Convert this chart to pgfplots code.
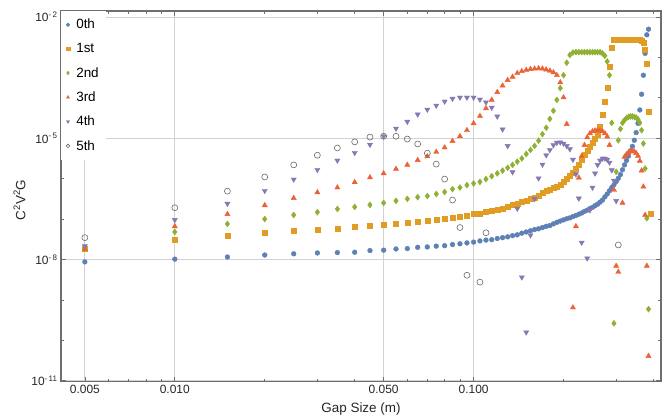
\documentclass[border=0pt]{standalone}
\usepackage{fontspec}
\setmainfont{Liberation Sans}
\usepackage{pgfplots}
\pgfplotsset{compat=1.18}
\definecolor{cA}{RGB}{94,129,181}
\definecolor{cB}{RGB}{225,156,36}
\definecolor{cC}{RGB}{143,176,50}
\definecolor{cD}{RGB}{235,98,53}
\definecolor{cE}{RGB}{135,120,179}
\definecolor{cF}{RGB}{105,105,105}
\definecolor{frame}{RGB}{110,110,110}
\definecolor{gridc}{RGB}{210,210,210}
\begin{document}
\begin{tikzpicture}
\useasboundingbox (-61bp,-34.5bp) rectangle (609bp,381.5bp);
\begin{axis}[
  at={(0,0)}, anchor=south west,
  scale only axis, width=600bp, height=370.5bp,
  xmode=log, ymode=log,
  xmin=0.00416, xmax=0.4238,
  ymin=9.55e-12, ymax=1.409e-2,
  xtick={0.005,0.01,0.05,0.1},
  xticklabels={0.005,0.010,0.050,0.100},
  minor xtick={0.006,0.007,0.008,0.009,0.02,0.03,0.04,0.06,0.07,0.08,0.09,0.2,0.3,0.4},
  ytick={1e-11,1e-8,1e-5,1e-2},
  yticklabels={10\textsuperscript{-\,11},10\textsuperscript{-\,8},10\textsuperscript{-\,5},10\textsuperscript{-\,2}},
  minor ytick={1e-10,1e-9,1e-7,1e-6,1e-4,1e-3},
  grid=major,
  major grid style={color=gridc, line width=0.9bp},
  axis line style={color=frame, line width=1.1bp},
  tick style={color=frame, line width=0.7bp},
  major tick length=5bp, minor tick length=2.7bp,
  tick align=inside,
  ticklabel style={font=\fontsize{12}{14}\selectfont, text=black!85},
  xlabel={Gap Size (m)},
  ylabel={C\textsuperscript{2}V\textsuperscript{2}G},
  label style={font=\fontsize{13.5}{15}\selectfont, text=black!85},
  x label style={at={(axis description cs:0.5,0)}, anchor=center, yshift=-27.5bp},
  y label style={at={(axis description cs:-0.069,0.49)}, anchor=center},
  legend style={at={(0,1)}, anchor=north west, draw=none, fill=white,
    inner xsep=5bp, inner ysep=6bp, row sep=9.1bp,
    font=\fontsize{13.5}{15}\selectfont,
    /tikz/every odd column/.append style={column sep=4.5bp}},
  legend cell align=left,
  legend image code/.code={\draw[#1, mark size=1.8bp] plot coordinates {(0bp,0bp)};},
  every axis plot/.append style={only marks},
]
% 0th
\addplot[mark=*, mark size=2.4bp, color=cA] coordinates {
(0.005,8.71e-9)(0.010,1.02e-8)(0.015,1.15e-8)(0.020,1.29e-8)(0.025,1.38e-8)(0.030,1.45e-8)(0.035,1.48e-8)(0.040,1.51e-8)(0.045,1.66e-8)(0.050,1.70e-8)(0.055,1.82e-8)(0.060,1.86e-8)(0.065,2.00e-8)(0.070,2.04e-8)(0.075,2.14e-8)(0.080,2.19e-8)(0.085,2.34e-8)(0.090,2.45e-8)(0.095,2.57e-8)(0.100,2.69e-8)(0.105,2.88e-8)(0.110,3.02e-8)(0.115,3.09e-8)(0.120,3.31e-8)(0.125,3.47e-8)(0.130,3.63e-8)(0.135,3.89e-8)(0.140,4.07e-8)(0.145,4.47e-8)(0.150,4.79e-8)(0.155,5.13e-8)(0.160,5.50e-8)(0.165,5.75e-8)(0.170,6.17e-8)(0.175,6.61e-8)(0.180,6.92e-8)(0.185,7.59e-8)(0.190,8.32e-8)(0.195,8.91e-8)(0.200,9.55e-8)(0.205,1.02e-7)(0.210,1.07e-7)(0.215,1.15e-7)(0.220,1.23e-7)(0.225,1.32e-7)(0.230,1.41e-7)(0.235,1.55e-7)(0.240,1.66e-7)(0.245,1.82e-7)(0.250,1.95e-7)(0.255,2.14e-7)(0.260,2.34e-7)(0.265,2.63e-7)(0.270,2.95e-7)(0.275,3.55e-7)(0.280,4.17e-7)(0.285,5.01e-7)(0.290,6.03e-7)(0.295,7.08e-7)(0.300,8.51e-7)(0.305,1.02e-6)(0.310,1.26e-6)(0.315,1.66e-6)(0.320,2.19e-6)(0.325,2.82e-6)(0.330,3.63e-6)(0.335,4.90e-6)(0.340,6.31e-6)(0.345,8.91e-6)(0.350,1.38e-5)(0.355,2.34e-5)(0.360,5.01e-5)(0.365,1.23e-4)(0.370,3.63e-4)(0.375,1.26e-3)(0.380,3.63e-3)(0.385,5.01e-3)
};
% 1st
\addplot[mark=square*, mark size=2.5bp, color=cB] coordinates {
(0.005,1.82e-8)(0.010,3.02e-8)(0.015,3.89e-8)(0.020,4.47e-8)(0.025,5.01e-8)(0.030,5.37e-8)(0.035,5.62e-8)(0.040,6.31e-8)(0.045,6.76e-8)(0.050,7.08e-8)(0.055,7.59e-8)(0.060,8.32e-8)(0.065,8.51e-8)(0.070,8.91e-8)(0.075,9.55e-8)(0.080,1.00e-7)(0.085,1.07e-7)(0.090,1.12e-7)(0.095,1.20e-7)(0.100,1.32e-7)(0.105,1.38e-7)(0.110,1.48e-7)(0.115,1.58e-7)(0.120,1.70e-7)(0.125,1.82e-7)(0.130,2.00e-7)(0.135,2.24e-7)(0.140,2.45e-7)(0.145,2.63e-7)(0.150,2.88e-7)(0.155,3.24e-7)(0.160,3.47e-7)(0.165,3.89e-7)(0.170,4.37e-7)(0.175,4.90e-7)(0.180,5.37e-7)(0.185,5.89e-7)(0.190,6.46e-7)(0.195,7.24e-7)(0.200,8.32e-7)(0.205,9.77e-7)(0.210,1.17e-6)(0.215,1.38e-6)(0.220,1.74e-6)(0.225,2.19e-6)(0.230,3.02e-6)(0.235,3.89e-6)(0.240,4.90e-6)(0.245,6.03e-6)(0.250,7.76e-6)(0.255,9.77e-6)(0.260,1.20e-5)(0.265,1.91e-5)(0.270,3.72e-5)(0.275,7.94e-5)(0.280,1.82e-4)(0.285,5.89e-4)(0.290,1.78e-3)(0.295,2.69e-3)(0.300,2.82e-3)(0.305,2.82e-3)(0.310,2.82e-3)(0.315,2.82e-3)(0.320,2.82e-3)(0.325,2.82e-3)(0.330,2.82e-3)(0.335,2.82e-3)(0.340,2.82e-3)(0.345,2.82e-3)(0.350,2.82e-3)(0.355,2.80e-3)(0.360,2.76e-3)(0.365,2.63e-3)(0.370,2.29e-3)(0.375,1.51e-3)(0.380,7.08e-4)(0.385,4.57e-5)(0.390,1.38e-7)
};
% 2nd
\addplot[mark=diamond*, mark size=3.0bp, color=cC] coordinates {
(0.005,1.95e-8)(0.010,4.79e-8)(0.015,7.59e-8)(0.020,1.00e-7)(0.025,1.26e-7)(0.030,1.48e-7)(0.035,1.78e-7)(0.040,2.00e-7)(0.045,2.24e-7)(0.050,2.51e-7)(0.055,2.82e-7)(0.060,3.16e-7)(0.065,3.47e-7)(0.070,3.72e-7)(0.075,4.17e-7)(0.080,4.68e-7)(0.085,5.50e-7)(0.090,6.03e-7)(0.095,6.92e-7)(0.100,7.59e-7)(0.105,8.32e-7)(0.110,9.77e-7)(0.115,1.15e-6)(0.120,1.35e-6)(0.125,1.58e-6)(0.130,1.86e-6)(0.135,2.19e-6)(0.140,2.63e-6)(0.145,3.16e-6)(0.150,4.07e-6)(0.155,5.13e-6)(0.160,6.46e-6)(0.165,8.71e-6)(0.170,1.26e-5)(0.175,1.82e-5)(0.180,3.02e-5)(0.185,4.79e-5)(0.190,8.91e-5)(0.195,1.74e-4)(0.200,3.63e-4)(0.205,7.41e-4)(0.210,1.15e-3)(0.215,1.32e-3)(0.220,1.35e-3)(0.225,1.35e-3)(0.230,1.35e-3)(0.235,1.35e-3)(0.240,1.35e-3)(0.245,1.35e-3)(0.250,1.35e-3)(0.255,1.35e-3)(0.260,1.35e-3)(0.265,1.35e-3)(0.270,1.26e-3)(0.275,1.10e-3)(0.280,7.94e-4)(0.285,3.63e-4)(0.290,2.40e-5)(0.295,2.63e-10)(0.300,1.48e-6)(0.305,8.91e-6)(0.310,1.70e-5)(0.315,2.40e-5)(0.320,2.82e-5)(0.325,3.16e-5)(0.330,3.39e-5)(0.335,3.47e-5)(0.340,3.47e-5)(0.345,3.39e-5)(0.350,3.24e-5)(0.355,2.95e-5)(0.360,2.40e-5)(0.365,1.58e-5)(0.370,7.41e-6)(0.375,1.78e-6)(0.380,1.05e-7)(0.385,5.89e-10)
};
% 3rd
\addplot[mark=triangle*, mark size=3.0bp, color=cD] coordinates {
(0.005,1.78e-8)(0.010,6.61e-8)(0.015,1.32e-7)(0.020,2.19e-7)(0.025,3.31e-7)(0.030,4.57e-7)(0.035,6.03e-7)(0.040,8.13e-7)(0.045,1.07e-6)(0.050,1.35e-6)(0.055,1.74e-6)(0.060,2.19e-6)(0.065,2.88e-6)(0.070,3.55e-6)(0.075,4.57e-6)(0.080,5.89e-6)(0.085,8.51e-6)(0.090,1.12e-5)(0.095,1.58e-5)(0.100,2.34e-5)(0.105,3.55e-5)(0.110,5.50e-5)(0.115,8.91e-5)(0.120,1.38e-4)(0.125,2.00e-4)(0.130,2.75e-4)(0.135,3.31e-4)(0.140,4.07e-4)(0.145,4.57e-4)(0.150,4.90e-4)(0.155,5.13e-4)(0.160,5.25e-4)(0.165,5.37e-4)(0.170,5.25e-4)(0.175,5.01e-4)(0.180,4.68e-4)(0.185,4.27e-4)(0.190,3.63e-4)(0.195,2.40e-4)(0.200,1.02e-4)(0.205,2.24e-5)(0.215,6.46e-10)(0.220,6.61e-8)(0.225,1.05e-6)(0.230,3.63e-6)(0.235,6.76e-6)(0.240,1.05e-5)(0.245,1.32e-5)(0.250,1.48e-5)(0.255,1.55e-5)(0.260,1.58e-5)(0.265,1.55e-5)(0.270,1.48e-5)(0.275,1.32e-5)(0.280,1.10e-5)(0.285,6.76e-6)(0.295,5.25e-7)(0.300,6.92e-9)(0.305,4.90e-9)(0.315,2.51e-7)(0.320,3.47e-6)(0.325,3.98e-6)(0.330,4.47e-6)(0.335,4.79e-6)(0.340,4.79e-6)(0.345,4.68e-6)(0.350,4.27e-6)(0.355,3.63e-6)(0.360,2.75e-6)(0.365,1.58e-6)(0.370,6.31e-7)(0.375,1.26e-7)(0.380,6.92e-9)(0.385,4.07e-11)
};
% 4th
\addplot[mark=triangle*, mark size=3.0bp, mark options={rotate=180}, color=cE] coordinates {
(0.005,2.14e-8)(0.010,9.55e-8)(0.015,2.40e-7)(0.020,5.01e-7)(0.025,9.55e-7)(0.030,1.66e-6)(0.035,2.82e-6)(0.040,4.37e-6)(0.045,6.92e-6)(0.050,1.12e-5)(0.055,1.74e-5)(0.060,2.57e-5)(0.065,3.89e-5)(0.070,5.13e-5)(0.075,6.46e-5)(0.080,8.13e-5)(0.085,9.55e-5)(0.090,1.02e-4)(0.095,1.02e-4)(0.100,1.02e-4)(0.105,9.12e-5)(0.110,7.76e-5)(0.115,5.75e-5)(0.120,3.47e-5)(0.125,1.66e-5)(0.130,6.46e-6)(0.135,1.45e-6)(0.140,1.82e-7)(0.145,3.63e-9)(0.150,1.58e-10)(0.155,3.98e-8)(0.160,3.16e-7)(0.165,1.02e-6)(0.170,2.24e-6)(0.175,3.80e-6)(0.180,5.13e-6)(0.185,6.76e-6)(0.190,7.76e-6)(0.195,7.94e-6)(0.200,7.41e-6)(0.205,6.46e-6)(0.210,5.37e-6)(0.215,2.95e-6)(0.220,1.29e-6)(0.225,3.24e-7)(0.230,2.63e-8)(0.240,1.07e-8)(0.245,1.66e-7)(0.250,6.03e-7)(0.255,1.35e-6)(0.260,2.19e-6)(0.265,2.82e-6)(0.270,3.16e-6)(0.275,3.16e-6)(0.280,2.95e-6)(0.285,2.51e-6)(0.290,1.62e-6)(0.295,8.91e-7)(0.300,2.82e-7)
};
% 5th
\addplot[mark=o, mark size=3.0bp, mark options={line width=0.6bp}, color=cF] coordinates {
(0.005,3.47e-8)(0.010,1.91e-7)(0.015,4.90e-7)(0.020,1.10e-6)(0.025,2.19e-6)(0.030,3.80e-6)(0.035,5.75e-6)(0.040,8.13e-6)(0.045,1.07e-5)(0.050,1.12e-5)(0.055,1.12e-5)(0.060,9.55e-6)(0.065,7.24e-6)(0.070,4.27e-6)(0.075,2.29e-6)(0.080,9.77e-7)(0.085,2.95e-7)(0.090,6.17e-8)(0.095,4.07e-9)(0.105,2.75e-9)(0.110,4.57e-8)(0.305,2.29e-8)
};
\legend{0th,1st,2nd,3rd,4th,5th}
\end{axis}
\end{tikzpicture}
\end{document}
